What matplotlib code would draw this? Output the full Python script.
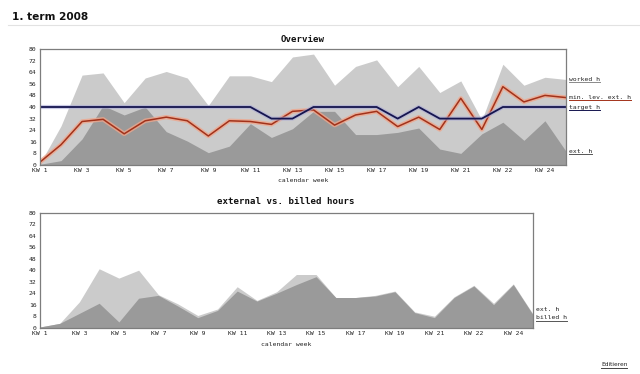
import matplotlib
matplotlib.use("Agg")
import matplotlib.pyplot as plt
import numpy as np

# ---------------- data ----------------
weeks = ["KW 1", "KW 2", "KW 3", "KW 4", "KW 5", "KW 6", "KW 7", "KW 8", "KW 9",
         "KW 10", "KW 11", "KW 12", "KW 13", "KW 14", "KW 15", "KW 16", "KW 17",
         "KW 18", "KW 19", "KW 20", "KW 21", "KW 21", "KW 22", "KW 23", "KW 24", "KW 25"]
worked_h = [1, 27, 62, 63.5, 43, 60, 64.5, 60, 41, 61.5, 61.5, 57.5, 74.5, 76.5,
            55, 68, 72.5, 54, 68, 50, 58, 31, 69.5, 55, 60.5, 59]
ext_h = [0.5, 3, 18, 41, 34.5, 40, 23, 16.5, 8.5, 13, 28.5, 19, 25, 37, 37, 21,
         21, 22.5, 25.5, 11, 8, 21.5, 29.5, 17, 30.5, 9.5]
min_lev_ext_h = [2, 14, 30, 31.5, 21.5, 30.5, 33, 30.5, 20, 30.5, 30, 28, 37, 38,
                 27.5, 34.5, 37, 26.5, 33, 24.5, 46, 24.5, 54, 43.5, 48, 46.5]
target_h = [40, 40, 40, 40, 40, 40, 40, 40, 40, 40, 40, 32, 32, 40, 40, 40, 40,
            32, 40, 32, 32, 32, 40, 40, 40, 40]
billed_h = [0.5, 3, 10, 17, 4, 20.5, 22.5, 15, 7, 12, 25.5, 18.5, 24, 30, 35.5,
            21, 21, 22, 25, 10.5, 7, 21, 29, 16, 30, 9]
y_ticks = [0, 8, 16, 24, 32, 40, 48, 56, 64, 72, 80]

# ---------------- style ----------------
W, H = 640, 374
LIGHT = "#cbcbcb"
DARK = "#9a9a9a"
RED = "#a3321a"
RED_HALO = "#efa68c"
NAVY = "#15154f"
NAVY_HALO = "#a9a9d6"
FRAME = "#7d7d7d"
MONO = "DejaVu Sans Mono"

fig = plt.figure(figsize=(W / 100, H / 100), dpi=100)
fig.patch.set_facecolor("white")


def fx(px):
    return px / W


def fy(py):
    return 1 - py / H


def setup(ax, n):
    ax.set_xlim(0, n - 1)
    ax.set_ylim(0, 80)
    ax.set_yticks(y_ticks)
    ax.set_yticklabels([str(v) for v in y_ticks])
    idx = list(range(0, n, 2))
    ax.set_xticks(idx)
    ax.set_xticklabels([weeks[i] for i in idx])
    ax.tick_params(length=0, labelsize=4.6, pad=2.5, colors="#222222")
    for lab in ax.get_xticklabels() + ax.get_yticklabels():
        lab.set_family(MONO)
    for s in ax.spines.values():
        s.set_color(FRAME)
        s.set_linewidth(0.9)
    ax.set_facecolor("white")


x = np.arange(len(weeks))

# ---------------- top chart ----------------
ax1 = fig.add_axes([fx(40), fy(165), fx(566 - 40), (165 - 49) / H])
setup(ax1, len(weeks))
ax1.fill_between(x, 0, worked_h, color=LIGHT, lw=0)
ax1.fill_between(x, 0, ext_h, color=DARK, lw=0)
ax1.plot(x, min_lev_ext_h, color=RED_HALO, lw=3.2, alpha=0.8)
ax1.plot(x, min_lev_ext_h, color=RED, lw=1.1)
ax1.plot(x, target_h, color=NAVY_HALO, lw=3.0, alpha=0.6)
ax1.plot(x, target_h, color=NAVY, lw=1.3)
fig.text(fx(303), fy(39), "Overview", family=MONO, fontsize=6.6,
         fontweight="bold", ha="center", va="center", color="#111111")
fig.text(fx(303), fy(181), "calendar week", family=MONO, fontsize=4.6,
         ha="center", va="center", color="#222222")

labels = []
series_top = [("worked h", worked_h[-1], "#8a8a8a", 0),
              ("min. lev. ext. h", min_lev_ext_h[-1], RED, 0),
              ("target h", target_h[-1], NAVY, 0),
              ("ext. h", ext_h[-1], "#555555", 0)]
for name, val, col, off in series_top:
    t = ax1.annotate(name, xy=(1, val), xycoords=("axes fraction", "data"),
                     xytext=(2, off), textcoords="offset points",
                     family=MONO, fontsize=4.6, ha="left", va="center",
                     color="#222222", annotation_clip=False)
    labels.append((t, col, 2.6))

# ---------------- bottom chart ----------------
ax2 = fig.add_axes([fx(40), fy(327.7), fx(533 - 40), (327.7 - 212.7) / H])
setup(ax2, len(weeks))
ax2.fill_between(x, 0, ext_h, color=LIGHT, lw=0)
ax2.fill_between(x, 0, billed_h, color=DARK, lw=0)
fig.text(fx(286), fy(201), "external vs. billed hours", family=MONO,
         fontsize=6.6, fontweight="bold", ha="center", va="center",
         color="#111111")
fig.text(fx(286), fy(344), "calendar week", family=MONO, fontsize=4.6,
         ha="center", va="center", color="#222222")

bottom_labels = [("ext. h", ext_h[-1], 3.0, None), ("billed h", billed_h[-1], -2.3, "#555555")]
for name, val, off, col in bottom_labels:
    t = ax2.annotate(name, xy=(1, val), xycoords=("axes fraction", "data"),
                     xytext=(2, off), textcoords="offset points",
                     family=MONO, fontsize=4.6, ha="left", va="center",
                     color="#222222", annotation_clip=False)
    if col:
        labels.append((t, col, 2.6))

# ---------------- header / footer ----------------
fig.text(fx(12), fy(17), "1. term 2008", fontsize=7.6, fontweight="bold",
         ha="left", va="center", color="#111111", family="DejaVu Sans")
fig.add_artist(plt.Line2D([fx(8), fx(640)], [fy(24.5), fy(24.5)],
                          color="#e2e2e2", lw=0.8))
ed = fig.text(fx(601), fy(365), "Editieren", fontsize=4.2, ha="left",
              va="center", color="#222222", family="DejaVu Sans")
labels.append((ed, "#444444", 2.2))

# underlines below the labels, matched to their text widths
fig.canvas.draw()
r = fig.canvas.get_renderer()
for t, col, gap in labels:
    bb = t.get_window_extent(r)
    y = bb.y0 - 0.3
    fig.add_artist(plt.Line2D([bb.x0 / W, bb.x1 / W], [y / H, y / H],
                              color=col, lw=0.7))

fig.savefig("out.png", dpi=100, facecolor="white")
